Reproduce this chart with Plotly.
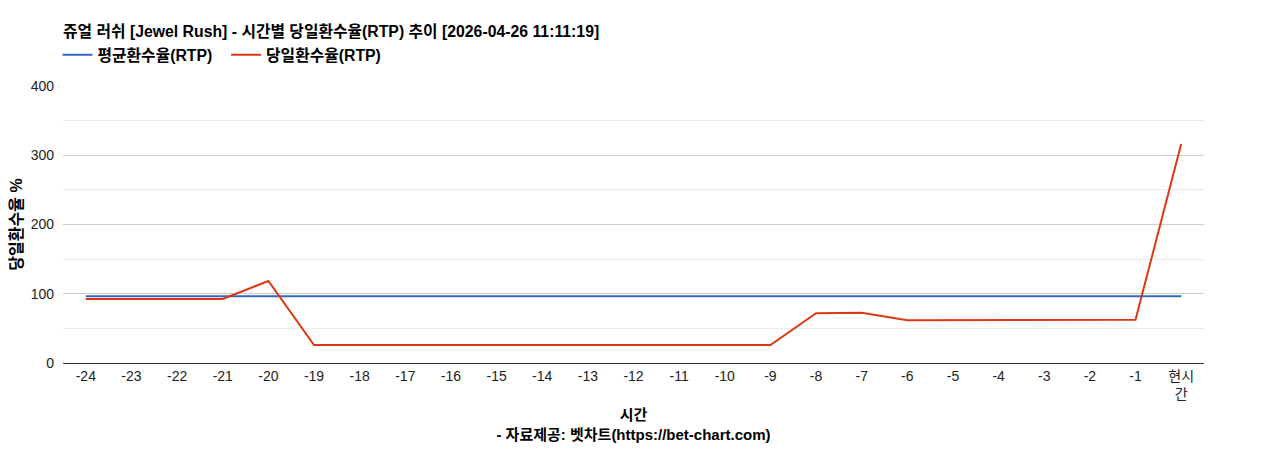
import plotly.graph_objects as go

categories = ["-24", "-23", "-22", "-21", "-20", "-19", "-18", "-17", "-16", "-15", "-14", "-13",
              "-12", "-11", "-10", "-9", "-8", "-7", "-6", "-5", "-4", "-3", "-2", "-1", "현시간"]
tick_labels = ["-24", "-23", "-22", "-21", "-20", "-19", "-18", "-17", "-16", "-15", "-14", "-13",
               "-12", "-11", "-10", "-9", "-8", "-7", "-6", "-5", "-4", "-3", "-2", "-1", "현시<br>간"]
avg_rtp = [96.5] * 25
daily_rtp = [92.4, 92.4, 92.4, 92.4, 118.4, 26, 26, 26, 26, 26, 26, 26,
             26, 26, 26, 26, 71.8, 72.7, 61.8, 61.8, 61.8, 61.8, 61.8, 62.5, 316.2]

FONT = "Arial, 'Liberation Sans', 'Noto Sans CJK KR', sans-serif"
W, H = 1268, 450
OFF = 8  # page body margin

fig = go.Figure()
fig.add_trace(go.Scatter(x=categories, y=avg_rtp, mode="lines", name="평균환수율(RTP)\u00a0\u00a0",
                         line=dict(color="#3366cc", width=2)))
fig.add_trace(go.Scatter(x=categories, y=daily_rtp, mode="lines", name="당일환수율(RTP)",
                         line=dict(color="#dc3912", width=2)))

fig.update_layout(
    width=W, height=H,
    margin=dict(l=63 - OFF, r=W - (1204 - OFF), t=86 - OFF, b=H - (363 - OFF), autoexpand=False),
    paper_bgcolor="white", plot_bgcolor="white",
    font=dict(family=FONT, size=14, color="#222"),
    title=dict(text="<b>쥬얼 러쉬 [Jewel Rush] - 시간별 당일환수율(RTP) 추이 [2026-04-26 11:11:19]</b>",
               x=(63 - OFF) / W, xanchor="left", y=1 - (31 - OFF) / H, yanchor="middle",
               font=dict(size=15.8, color="#000")),
    legend=dict(orientation="h", xref="container", yref="container",
                x=(63 - OFF - 5.5) / W, xanchor="left", y=1 - (55 - OFF) / H, yanchor="middle",
                font=dict(size=15.8, color="#000", weight="bold"), itemwidth=30, tracegroupgap=0,
                bgcolor="rgba(0,0,0,0)"),
    showlegend=True,
)
fig.update_xaxes(
    type="category", tickvals=categories, ticktext=tick_labels,
    range=[-0.5, 24.5], showgrid=False, showline=True, linecolor="#333", linewidth=1,
    ticks="", tickfont=dict(size=14, color="#222"),
    title=dict(text="<b>시간</b><br><b>- 자료제공: 벳차트(https://bet-chart.com)</b>",
               font=dict(size=15, color="#000"), standoff=8),
)
fig.update_yaxes(
    range=[0, 400], dtick=100, showgrid=True, gridcolor="#cccccc", gridwidth=1,
    minor=dict(dtick=50, showgrid=True, gridcolor="#ebebeb"),
    zeroline=False, showline=False, ticks="", tickfont=dict(size=14, color="#222"),
    ticklabelstandoff=8,
    title=dict(text="<b>당일환수율 %</b>", font=dict(size=16, color="#000"), standoff=12),
)

fig.write_html("out.html")
